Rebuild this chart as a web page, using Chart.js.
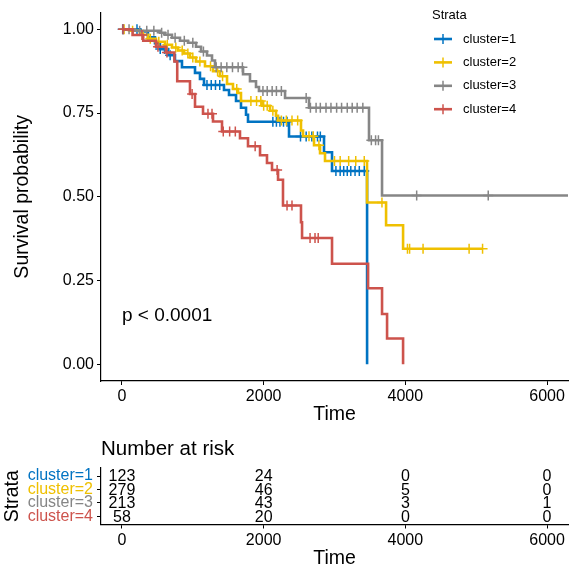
<!DOCTYPE html>
<html><head><meta charset="utf-8">
<script src="https://cdn.jsdelivr.net/npm/chart.js@4"></script>
<style>
html,body{margin:0;padding:0;background:#fff;}
#wrap{position:relative;width:576px;height:576px;background:#fff;}
#main{position:absolute;left:0;top:0;}
#risk{position:absolute;left:0;top:430px;}
</style></head><body>
<div id="wrap">
<canvas id="main" width="576" height="430"></canvas>
<canvas id="risk" width="576" height="146"></canvas>
</div>
<script>
// ---------- data ----------
const strataNames = ['cluster=1', 'cluster=2', 'cluster=3', 'cluster=4'];
const strataColors = ['#0073C2', '#EFC000', '#868686', '#CD534C'];

const time1 = [0, 254, 367, 466, 536, 650, 748, 847, 1031, 1101, 1158, 1440, 1511, 1610, 1680, 1751, 1779, 2358, 2852, 2965, 3460];
const surv1 = [1, 0.994, 0.976, 0.959, 0.941, 0.923, 0.905, 0.887, 0.870, 0.852, 0.834, 0.819, 0.804, 0.786, 0.766, 0.745, 0.724, 0.680, 0.633, 0.577, 0];
const cens1 = [10, 212, 540, 600, 680, 1200, 1260, 1320, 1380, 2130, 2180, 2230, 2280, 2330, 2520, 2600, 2680, 2760, 2800, 3020, 3080, 3130, 3180, 3230, 3290, 3350, 3420];

const time2 = [0, 113, 254, 367, 480, 607, 706, 791, 875, 960, 1045, 1172, 1285, 1384, 1483, 1567, 1638, 1680, 1977, 2090, 2174, 2203, 2527, 2556, 2711, 2796, 2866, 3459, 3728, 3968, 5090];
const surv2 = [1, 0.996, 0.984, 0.972, 0.963, 0.954, 0.946, 0.937, 0.928, 0.916, 0.904, 0.890, 0.875, 0.860, 0.837, 0.822, 0.810, 0.786, 0.772, 0.757, 0.742, 0.728, 0.698, 0.681, 0.654, 0.630, 0.607, 0.483, 0.415, 0.345, 0.345];
const cens2 = [30, 150, 300, 400, 520, 640, 760, 850, 930, 1000, 1100, 1250, 1350, 1420, 1620, 1820, 1900, 1960, 2000, 2050, 2130, 2250, 2320, 2400, 2480, 2640, 2700, 2780, 3000, 3080, 3200, 3300, 3420, 3670, 4030, 4060, 4250, 4900, 5090];

const time3 = [0, 184, 537, 607, 706, 819, 932, 1045, 1116, 1200, 1271, 1313, 1709, 1807, 1892, 1934, 2302, 2640, 3487, 3671, 6296];
const surv3 = [1, 0.996, 0.990, 0.984, 0.975, 0.966, 0.960, 0.948, 0.934, 0.922, 0.907, 0.887, 0.866, 0.845, 0.828, 0.816, 0.795, 0.766, 0.669, 0.504, 0.504];
const cens3 = [20, 100, 250, 350, 450, 560, 650, 750, 880, 1000, 1150, 1330, 1400, 1480, 1560, 1640, 1700, 1990, 2050, 2120, 2180, 2250, 2600, 2660, 2740, 2800, 2880, 2950, 3030, 3100, 3180, 3250, 3320, 3400, 3520, 3580, 3620, 4160, 5170];

const time4 = [0, 150, 300, 480, 620, 740, 780, 960, 1031, 1144, 1285, 1412, 1666, 1779, 1949, 2047, 2118, 2203, 2273, 2527, 2542, 2965, 3474, 3671, 3742, 3968];
const surv4 = [1, 0.983, 0.966, 0.948, 0.931, 0.904, 0.845, 0.807, 0.769, 0.748, 0.725, 0.695, 0.675, 0.651, 0.624, 0.601, 0.580, 0.551, 0.474, 0.424, 0.377, 0.300, 0.227, 0.150, 0.077, 0];
const cens4 = [14, 282, 508, 635, 990, 1214, 1271, 1430, 1520, 1600, 1880, 2190, 2330, 2400, 2655, 2725, 2770];

const xTicks = [0, 2000, 4000, 6000];
const yTicks = [0, 0.25, 0.5, 0.75, 1.0];
const riskTimes = [0, 2000, 4000, 6000];
const risk1 = [123, 24, 0, 0];
const risk2 = [279, 46, 5, 0];
const risk3 = [213, 43, 3, 1];
const risk4 = [58, 20, 0, 0];
const pValueText = 'p < 0.0001';

// ---------- build ----------
const FONT = "'Liberation Sans', Arial, Helvetica, sans-serif";
Chart.defaults.font.family = FONT;
Chart.defaults.color = '#000';
const X_MIN = -296, X_MAX = 6296;

const times = [time1, time2, time3, time4];
const survs = [surv1, surv2, surv3, surv4];
const censs = [cens1, cens2, cens3, cens4];
const risks = [risk1, risk2, risk3, risk4];

function stepAt(t, s, c) {
  let v = s[0];
  for (let i = 0; i < t.length; i++) { if (t[i] <= c) v = s[i]; }
  return v;
}

const datasets = [];
const drawOrder = [4, 3, 2, 1];
for (let k = 0; k < 4; k++) {
  datasets.push({
    label: strataNames[k],
    data: times[k].map((t, i) => ({ x: t, y: survs[k][i] })),
    borderColor: strataColors[k],
    borderWidth: 2.6,
    stepped: 'before',
    pointRadius: 0,
    fill: false,
    order: drawOrder[k] * 2
  });
  datasets.push({
    label: strataNames[k] + ' censor',
    data: censs[k].map(c => ({ x: c, y: stepAt(times[k], survs[k], c) })),
    showLine: false,
    pointStyle: 'cross',
    pointRadius: 5,
    pointBorderWidth: 1.5,
    borderColor: strataColors[k],
    backgroundColor: strataColors[k],
    order: drawOrder[k] * 2 - 1
  });
}

const overlay = {
  id: 'overlay',
  afterDraw(chart) {
    const ctx = chart.ctx;
    const xs = chart.scales.x, ys = chart.scales.y;
    ctx.save();
    // p-value
    ctx.fillStyle = '#000';
    ctx.font = `19px ${FONT}`;
    ctx.textAlign = 'left';
    ctx.textBaseline = 'middle';
    ctx.fillText(pValueText, xs.getPixelForValue(0), ys.getPixelForValue(0.145));
    // legend
    ctx.font = `13px ${FONT}`;
    ctx.fillText('Strata', 432, 15);
    for (let k = 0; k < 4; k++) {
      const y = 39 + k * 23.4;
      ctx.strokeStyle = strataColors[k];
      ctx.lineWidth = 2.6;
      ctx.beginPath(); ctx.moveTo(434, y); ctx.lineTo(452, y); ctx.stroke();
      ctx.lineWidth = 1.5;
      ctx.beginPath(); ctx.moveTo(443, y - 5); ctx.lineTo(443, y + 5); ctx.stroke();
      ctx.fillStyle = '#000';
      ctx.fillText(strataNames[k], 463, y);
    }
    ctx.restore();
  }
};

new Chart(document.getElementById('main'), {
  type: 'line',
  data: { datasets },
  options: {
    responsive: false, animation: false,
    layout: { padding: { top: 7.5, right: 8, left: 0, bottom: 0 } },
    plugins: { legend: { display: false }, tooltip: { enabled: false }, title: { display: false } },
    scales: {
      x: {
        type: 'linear', min: X_MIN, max: X_MAX,
        afterBuildTicks: s => { s.ticks = xTicks.map(v => ({ value: v })); },
        afterFit: s => { s.height = 49; },
        grid: { display: true, drawOnChartArea: false, drawTicks: true, tickLength: 4, color: '#000', lineWidth: 1 },
        border: { display: true, color: '#000', width: 1.2 },
        ticks: { font: { size: 16 }, color: '#000', padding: 2, maxRotation: 0, autoSkip: false, callback: v => String(v) },
        title: { display: true, text: 'Time', font: { size: 19.5 }, color: '#000', padding: { top: 0, bottom: 4 } }
      },
      y: {
        type: 'linear', min: -0.05, max: 1.05,
        afterBuildTicks: s => { s.ticks = yTicks.map(v => ({ value: v })); },
        afterFit: s => { s.width = 101; },
        grid: { display: true, drawOnChartArea: false, drawTicks: true, tickLength: 4, color: '#000', lineWidth: 1 },
        border: { display: true, color: '#000', width: 1.2 },
        ticks: { font: { size: 16 }, color: '#000', padding: 3, autoSkip: false, callback: v => Number(v).toFixed(2) },
        title: { display: true, text: 'Survival probability', font: { size: 19.5 }, color: '#000', padding: { top: 11, bottom: 0 } }
      }
    }
  },
  plugins: [overlay]
});

// ---------- risk table ----------
const riskData = [];
for (let k = 0; k < 4; k++) {
  riskTimes.forEach((t, i) => riskData.push({ x: t, y: k + 1, n: risks[k][i] }));
}
const riskText = {
  id: 'riskText',
  afterDraw(chart) {
    const ctx = chart.ctx;
    const meta = chart.getDatasetMeta(0);
    ctx.save();
    ctx.fillStyle = '#000';
    ctx.font = `16px ${FONT}`;
    ctx.textAlign = 'center';
    ctx.textBaseline = 'middle';
    meta.data.forEach((el, i) => {
      ctx.fillText(String(riskData[i].n), el.x, el.y + 1);
    });
    ctx.font = `20.5px ${FONT}`;
    ctx.textAlign = 'left';
    ctx.fillText('Number at risk', chart.chartArea.left, 19);
    ctx.restore();
  }
};

new Chart(document.getElementById('risk'), {
  type: 'line',
  data: { datasets: [{ data: riskData, showLine: false, pointRadius: 0 }] },
  options: {
    responsive: false, animation: false,
    layout: { padding: { top: 38, right: 8, left: 0, bottom: 0 } },
    plugins: { legend: { display: false }, tooltip: { enabled: false } },
    scales: {
      x: {
        type: 'linear', min: X_MIN, max: X_MAX,
        afterBuildTicks: s => { s.ticks = xTicks.map(v => ({ value: v })); },
        afterFit: s => { s.height = 51.5; },
        grid: { display: true, drawOnChartArea: false, drawTicks: true, tickLength: 4, color: '#000' },
        border: { display: true, color: '#000', width: 1.2 },
        ticks: { font: { size: 16 }, color: '#000', padding: 2, maxRotation: 0, autoSkip: false, callback: v => String(v) },
        title: { display: true, text: 'Time', font: { size: 19.5 }, color: '#000', padding: { top: 0, bottom: 6 } }
      },
      y: {
        type: 'linear', min: 0.4, max: 4.6, reverse: true,
        afterBuildTicks: s => { s.ticks = [1, 2, 3, 4].map(v => ({ value: v })); },
        afterFit: s => { s.width = 101; },
        grid: { display: true, drawOnChartArea: false, drawTicks: true, tickLength: 4, color: '#000' },
        border: { display: true, color: '#000', width: 1.2 },
        ticks: { font: { size: 16 }, padding: 4, autoSkip: false,
          color: c => strataColors[c.index] || '#000',
          callback: v => strataNames[Math.round(v) - 1] },
        title: { display: true, text: 'Strata', font: { size: 19.5 }, color: '#000', padding: { top: 1, bottom: 0 } }
      }
    }
  },
  plugins: [riskText]
});
</script>
</body></html>
